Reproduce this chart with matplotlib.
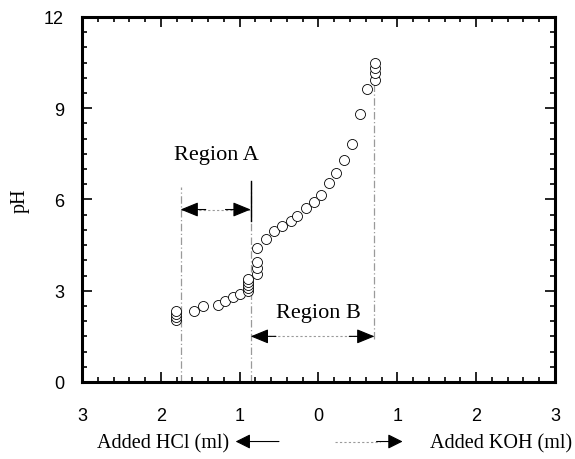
import matplotlib.pyplot as plt
from matplotlib.patches import FancyArrowPatch
from matplotlib.ticker import MultipleLocator, FuncFormatter

# titration data (negative = HCl added, positive = KOH added)
added_ml = [-1.81, -1.81, -1.81, -1.81, -1.58, -1.47, -1.28, -1.18, -1.08, -0.99,
            -0.90, -0.89, -0.89, -0.89, -0.89, -0.78, -0.78, -0.78, -0.78, -0.67,
            -0.57, -0.46, -0.35, -0.27, -0.16, -0.06, 0.03, 0.13, 0.22, 0.32,
            0.43, 0.53, 0.62, 0.72, 0.72, 0.72, 0.72]
ph = [2.05, 2.15, 2.25, 2.35, 2.33, 2.49, 2.52, 2.66, 2.79, 2.89,
      3.00, 3.10, 3.20, 3.30, 3.40, 3.55, 3.75, 3.95, 4.40, 4.69,
      4.95, 5.12, 5.28, 5.47, 5.73, 5.93, 6.16, 6.55, 6.88, 7.31,
      7.84, 8.82, 9.64, 9.93, 10.16, 10.33, 10.49]

# region boundaries (x) and their vertical extent (pH)
bounds_x = [-1.75, -0.86, 0.71]
bounds_top = [6.4, 6.6, 10.4]
bounds_bottom = [0.0, 0.0, 1.4]

serif = "Liberation Serif"
sans = "Liberation Sans"

fig = plt.figure(figsize=(5.75, 4.6), dpi=100)
ax = fig.add_axes([0.1426, 0.1674, 0.8226, 0.7935])

# region boundary lines
for bx, top, bot in zip(bounds_x, bounds_top, bounds_bottom):
    ax.plot([bx, bx], [bot, top], color="#9a9a9a", lw=0.9, ls=(0, (6, 2, 1, 2)), zorder=1)
ax.plot([bounds_x[1], bounds_x[1]], [5.3, 6.6], color="black", lw=1.0, zorder=1)

ax.plot(added_ml, ph, ls="none", marker="o", ms=7.2, mfc="white", mec="black",
        mew=0.6, zorder=3)


def double_arrow(x0, x1, y):
    ax.plot([x0, x1], [y, y], color="#9a9a9a", lw=0.8, ls=(0, (2, 2)), zorder=2)
    span = 0.32
    for end, start in [(x0, x0 + span), (x1, x1 - span)]:
        ax.annotate("", xy=(end, y), xytext=(start, y),
                    arrowprops=dict(arrowstyle="-|>,head_length=1.1,head_width=0.45",
                                    color="black", lw=0.8, shrinkA=0, shrinkB=0),
                    zorder=4)


double_arrow(bounds_x[0], bounds_x[1], 5.67)
double_arrow(bounds_x[1], bounds_x[2], 1.5)

ax.text(-1.29, 7.48, "Region A", family=serif, fontsize=16, ha="center", va="center")
ax.text(0.0, 2.3, "Region B", family=serif, fontsize=16, ha="center", va="center")

ax.set_xlim(-3, 3)
ax.set_ylim(0, 12)
ax.xaxis.set_major_locator(MultipleLocator(1))
ax.xaxis.set_minor_locator(MultipleLocator(0.2))
ax.yaxis.set_major_locator(MultipleLocator(3))
ax.yaxis.set_minor_locator(MultipleLocator(0.5))
ax.xaxis.set_major_formatter(FuncFormatter(lambda v, p: f"{abs(v):.0f}"))
ax.tick_params(which="both", direction="in", top=True, right=True, width=1.2)
ax.tick_params(which="major", length=7, labelsize=13)
ax.tick_params(axis="x", which="major", pad=18)
ax.tick_params(axis="y", which="major", pad=13)
ax.tick_params(which="minor", length=3.5)
for lab in ax.get_xticklabels() + ax.get_yticklabels():
    lab.set_family(sans)
for sp in ax.spines.values():
    sp.set_linewidth(2.2)

ax.set_ylabel("pH", family=serif, fontsize=14.5)
ax.yaxis.set_label_coords(-0.11, 0.5)

# x axis captions with direction arrows
fig.text(0.169, 0.036, "Added HCl (ml)", family=serif, fontsize=14.5, ha="left", va="center")
fig.text(0.995, 0.036, "Added KOH (ml)", family=serif, fontsize=14.5, ha="right", va="center")
arrow_style = "-|>,head_length=9,head_width=4.5"
fig.patches.append(FancyArrowPatch(
    (0.49, 0.038), (0.405, 0.038), transform=fig.transFigure,
    arrowstyle=arrow_style, color="black", lw=0.8))
fig.lines.append(plt.Line2D([0.583, 0.66], [0.038, 0.038], transform=fig.transFigure,
                            color="#9a9a9a", lw=0.8, ls=(0, (2, 2))))
fig.patches.append(FancyArrowPatch(
    (0.65, 0.038), (0.705, 0.038), transform=fig.transFigure,
    arrowstyle=arrow_style, color="black", lw=0.8))

fig.savefig("out.png", dpi=100)
